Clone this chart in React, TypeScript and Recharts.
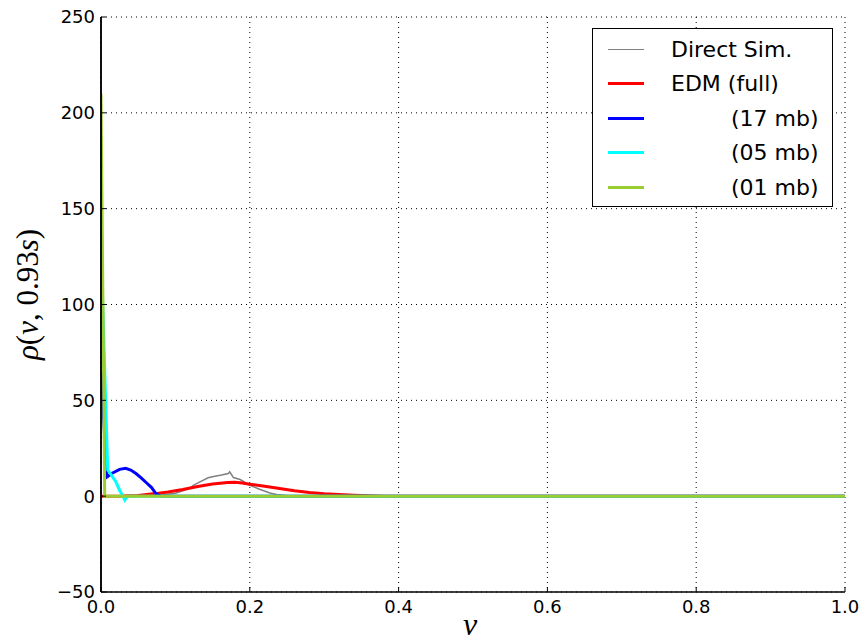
import { LineChart, Line, XAxis, YAxis, CartesianGrid, Legend, ReferenceLine } from 'recharts';

// Direct simulation (grey)
const simX = [0, 0.005, 0.01, 0.02, 0.05, 0.08, 0.1, 0.11, 0.12, 0.124, 0.133, 0.144, 0.153, 0.162, 0.171, 0.173, 0.178, 0.187, 0.2, 0.214, 0.227, 0.236, 0.25, 0.3, 1.0];
const simY = [0, 0, 0, 0, 0, 0.5, 1.5, 2.8, 4.2, 5.7, 7.5, 9.6, 10.4, 11, 11.8, 12.7, 9.7, 8.7, 5.7, 3.5, 1.7, 0.9, 0.2, 0, 0];

// EDM (full)
const fullX = [0, 0.03, 0.05, 0.07, 0.09, 0.11, 0.13, 0.15, 0.17, 0.18, 0.19, 0.2, 0.22, 0.24, 0.26, 0.28, 0.3, 0.32, 0.34, 0.36, 0.38, 1.0];
const fullY = [0, 0.1, 0.4, 1.2, 2.2, 3.5, 5, 6.4, 7.1, 7.2, 6.9, 6.2, 5.2, 4.0, 2.8, 1.9, 1.2, 0.9, 0.5, 0.2, 0, 0];

// EDM 17 mb
const mb17X = [0, 0.008, 0.015, 0.025, 0.033, 0.04, 0.047, 0.054, 0.061, 0.068, 0.074, 0.08, 1.0];
const mb17Y = [65, 10, 12, 14, 14.5, 13.6, 11.8, 9.5, 7, 4.5, 1.2, 0, 0];

// EDM 05 mb
const mb05X = [0, 0.009, 0.014, 0.02, 0.025, 0.03, 0.032, 0.036, 1.0];
const mb05Y = [130, 13.6, 11, 7.5, 3.1, -0.3, -2, 0, 0];

// EDM 01 mb
const mb01X = [0, 0.005, 1.0];
const mb01Y = [210, 0, 0];

const xTicks = [0, 0.2, 0.4, 0.6, 0.8, 1.0];
const yTicks = [-50, 0, 50, 100, 150, 200, 250];

const toPoints = (xs: number[], ys: number[]) => xs.map((x, i) => ({ x, y: ys[i] }));

const series = [
  { name: 'Direct Sim.', color: '#808080', width: 1.5, indent: 0, data: toPoints(simX, simY) },
  { name: 'EDM (full)', color: '#ff0000', width: 3, indent: 0, data: toPoints(fullX, fullY) },
  { name: '(17 mb)', color: '#0000ff', width: 3, indent: 60, data: toPoints(mb17X, mb17Y) },
  { name: '(05 mb)', color: '#00ffff', width: 3, indent: 60, data: toPoints(mb05X, mb05Y) },
  { name: '(01 mb)', color: '#9acd32', width: 3, indent: 60, data: toPoints(mb01X, mb01Y) },
];

const FONT = '"DejaVu Sans", sans-serif';

const BottomTick = (props: any) => {
  const { x, y, payload } = props;
  return (
    <g>
      <line x1={x} x2={x} y1={y} y2={y - 5} stroke="#000" strokeWidth={1} />
      <text x={x} y={y + 21} textAnchor="middle" fontSize={18} fontFamily={FONT} fill="#000">
        {payload.value.toFixed(1)}
      </text>
    </g>
  );
};

const TopTick = (props: any) => {
  const { x, y } = props;
  return <line x1={x} x2={x} y1={y} y2={y + 5} stroke="#000" strokeWidth={1} />;
};

const LeftTick = (props: any) => {
  const { x, y, payload } = props;
  const v = payload.value;
  return (
    <g>
      <line x1={x} x2={x + 5} y1={y} y2={y} stroke="#000" strokeWidth={1} />
      <text x={x - 6} y={y} dy="0.36em" textAnchor="end" fontSize={18} fontFamily={FONT} fill="#000">
        {v < 0 ? '\u2212' + Math.abs(v) : String(v)}
      </text>
    </g>
  );
};

const RightTick = (props: any) => {
  const { x, y } = props;
  return <line x1={x} x2={x - 5} y1={y} y2={y} stroke="#000" strokeWidth={1} />;
};

const LegendBox = () => (
  <div
    style={{
      width: 241,
      height: 179,
      boxSizing: 'border-box',
      border: '1.5px solid #000',
      background: '#fff',
      padding: '3px 0 0 0',
      fontFamily: FONT,
      fontSize: 22,
    }}
  >
    {series.map((s) => (
      <div key={s.name} style={{ display: 'flex', alignItems: 'center', height: 34.5 }}>
        <div style={{ marginLeft: 15, width: 36, height: s.width, background: s.color }} />
        <span style={{ marginLeft: 27 + s.indent, whiteSpace: 'pre' }}>{s.name}</span>
      </div>
    ))}
  </div>
);

export default function App() {
  return (
    <div style={{ position: 'absolute', left: 0, top: 0, width: 868, height: 644, background: '#fff' }}>
      <LineChart width={868} height={644} margin={{ top: 17, right: 23, bottom: 0, left: 0 }}>
        <CartesianGrid stroke="#000" strokeDasharray="1 4" strokeWidth={1} />
        <XAxis
          dataKey="x"
          type="number"
          domain={[0, 1]}
          ticks={xTicks}
          height={52}
          allowDataOverflow
          axisLine={{ stroke: '#000', strokeWidth: 1.5 }}
          tickLine={false}
          tickSize={0}
          tickMargin={0}
          tick={<BottomTick />}
        />
        <XAxis
          xAxisId="top"
          orientation="top"
          type="number"
          domain={[0, 1]}
          ticks={xTicks}
          height={0}
          allowDataOverflow
          axisLine={{ stroke: '#000', strokeWidth: 1.5 }}
          tickLine={false}
          tickSize={0}
          tickMargin={0}
          tick={<TopTick />}
        />
        <YAxis
          type="number"
          domain={[-50, 250]}
          ticks={yTicks}
          width={101}
          allowDataOverflow
          axisLine={{ stroke: '#000', strokeWidth: 1.5 }}
          tickLine={false}
          tickSize={0}
          tickMargin={0}
          tick={<LeftTick />}
          label={
            <text x={39} y={306} transform="rotate(-90 39 306)" textAnchor="middle" fontSize={31} fontFamily='"Liberation Serif", serif' fill="#000">
              <tspan fontStyle="italic">ρ</tspan>
              <tspan>(</tspan>
              <tspan fontStyle="italic">v</tspan>
              <tspan>, 0.93</tspan>
              <tspan fontStyle="italic">s</tspan>
              <tspan>)</tspan>
            </text>
          }
        />
        <YAxis
          yAxisId="right"
          orientation="right"
          type="number"
          domain={[-50, 250]}
          ticks={yTicks}
          width={0}
          allowDataOverflow
          axisLine={{ stroke: '#000', strokeWidth: 1.5 }}
          tickLine={false}
          tickSize={0}
          tickMargin={0}
          tick={<RightTick />}
        />
        <Legend
          layout="horizontal"
          verticalAlign="middle"
          align="center"
          content={<LegendBox />}
          wrapperStyle={{ left: 592, top: 28, width: 241, height: 179 }}
        />
        {series.map((s) => (
          <Line
            key={s.name}
            data={s.data}
            dataKey="y"
            name={s.name}
            type="linear"
            stroke={s.color}
            strokeWidth={s.width}
            dot={false}
            activeDot={false}
            isAnimationActive={false}
          />
        ))}
        <ReferenceLine x={0} stroke="#000" strokeWidth={1.5} />
      </LineChart>
      <div
        style={{
          position: 'absolute',
          left: 463,
          top: 604,
          fontFamily: '"Liberation Serif", serif',
          fontStyle: 'italic',
          fontSize: 32,
          lineHeight: '40px',
        }}
      >
        v
      </div>
    </div>
  );
}
